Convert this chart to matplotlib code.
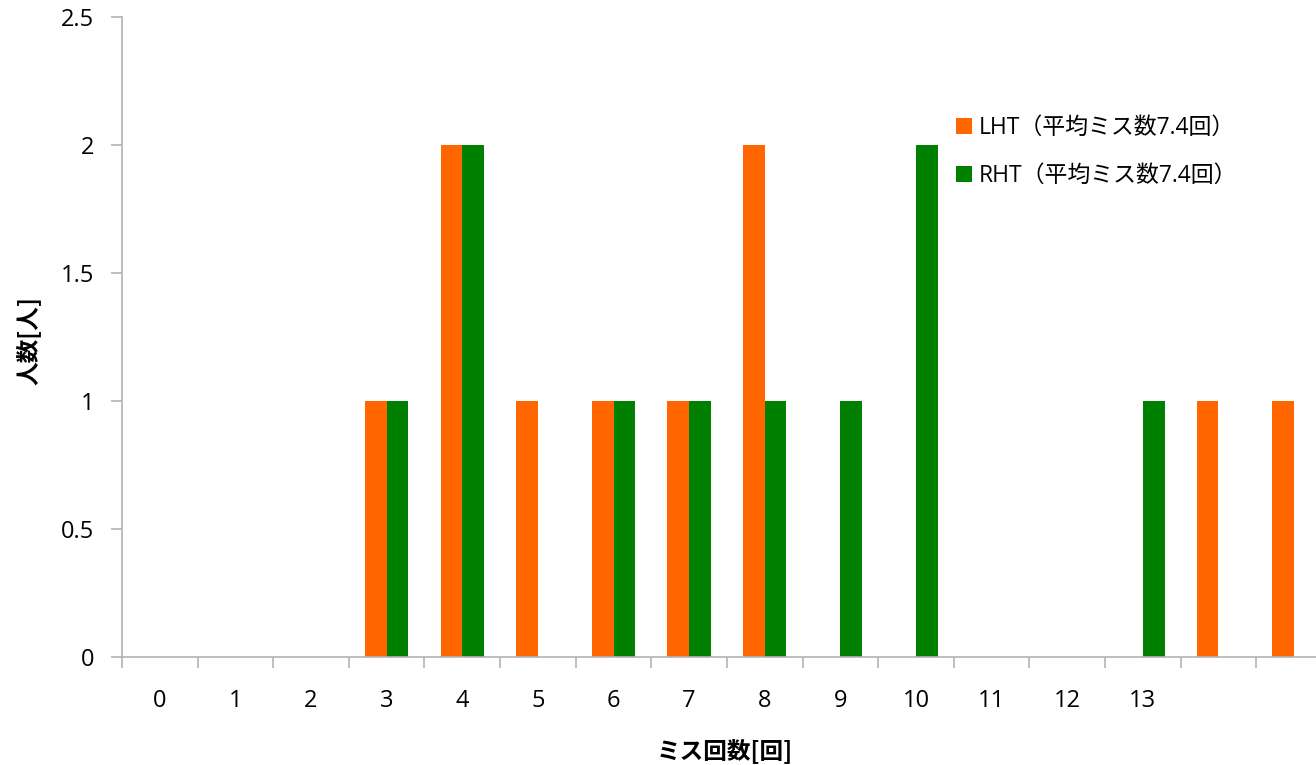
import matplotlib
matplotlib.use("Agg")
import matplotlib.pyplot as plt
import numpy as np

plt.rcParams['font.family'] = ['Open Sans', 'Noto Sans CJK JP', 'DejaVu Sans']

# miss counts per person; last two categories carry no tick label
categories = ["0", "1", "2", "3", "4", "5", "6", "7", "8", "9", "10", "11", "12", "13", "", ""]
lht_counts = [0, 0, 0, 1, 2, 1, 1, 1, 2, 0, 0, 0, 0, 0, 1, 1]
rht_counts = [0, 0, 0, 1, 2, 0, 1, 1, 1, 1, 2, 0, 0, 1, 0, 0]
lht_label = "LHT（平均ミス数7.4回）"
rht_label = "RHT（平均ミス数7.4回）"

ORANGE = "#FF6600"
GREEN = "#008000"
AXIS_GRAY = "#B3B3B3"
CJK = ['Noto Sans CJK JP', 'DejaVu Sans']

fig = plt.figure(figsize=(13.16, 7.65), dpi=100)
ax = fig.add_axes([0.0927, 0.1412, 0.9073, 0.8366])

x = np.arange(len(categories))
width = 0.287
ax.bar(x - width / 2, lht_counts, width, color=ORANGE, label=lht_label)
ax.bar(x + width / 2, rht_counts, width, color=GREEN, label=rht_label)

ax.set_yticks([0, 0.5, 1, 1.5, 2, 2.5])
ax.set_yticklabels(["0", "0.5", "1", "1.5", "2", "2.5"])

# category labels at centres, tick marks on category boundaries
ax.set_xticks(x)
ax.set_xticklabels(categories)
ax.set_xticks(np.arange(len(categories) + 1) - 0.5, minor=True)
ax.tick_params(axis="x", which="major", length=0, pad=23, labelsize=17)
ax.tick_params(axis="x", which="minor", length=8, color=AXIS_GRAY, width=1.2)
ax.tick_params(axis="y", length=8, color=AXIS_GRAY, width=1.2, pad=12, labelsize=17)

# the last category runs past the right edge
ax.set_xlim(-0.5, 15.29)
ax.set_ylim(0, 2.5)

for side in ("top", "right"):
    ax.spines[side].set_visible(False)
for side in ("left", "bottom"):
    ax.spines[side].set_color(AXIS_GRAY)
    ax.spines[side].set_linewidth(1.2)

ax.set_xlabel("ミス回数[回]", fontsize=17, fontweight="bold", family=CJK)
ax.xaxis.set_label_coords(0.505, -0.127)
ax.set_ylabel("人数[人]", fontsize=17, fontweight="bold", family=CJK)
ax.yaxis.set_label_coords(-0.068, 0.495)

ax.legend(loc="upper left", bbox_to_anchor=(956 / 1316, 1 - 116 / 765),
          bbox_transform=fig.transFigure, frameon=False,
          prop={"size": 16.5}, handlelength=0.7, handleheight=0.7,
          handletextpad=0.3, labelspacing=1.05, borderpad=0, borderaxespad=0)

fig.savefig("out.png", dpi=100)
